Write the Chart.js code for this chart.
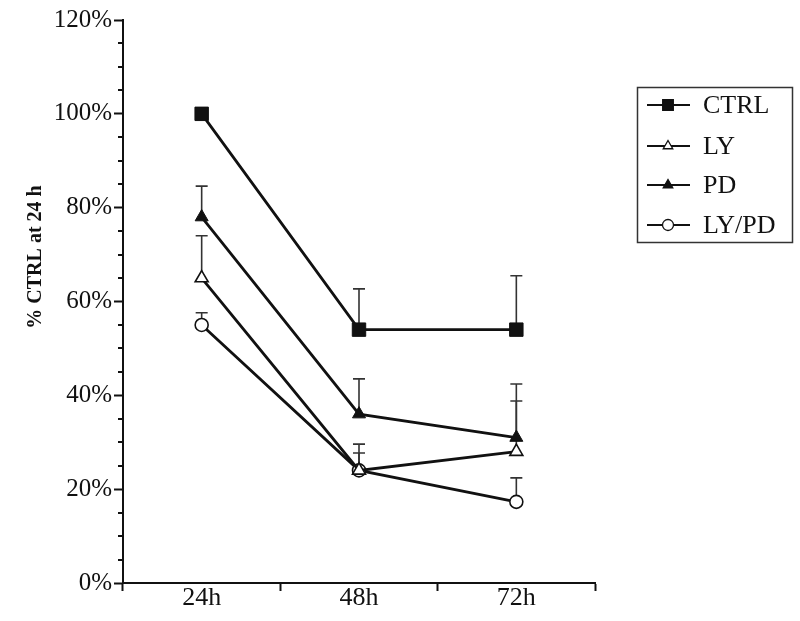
<!DOCTYPE html>
<html>
<head>
<meta charset="utf-8">
<script src="https://cdn.jsdelivr.net/npm/chart.js@4.4.1/dist/chart.umd.min.js"></script>
<style>
html,body{margin:0;padding:0;background:#fff;}
#wrap{width:800px;height:621px;position:relative;}
</style>
</head>
<body>
<div id="wrap"><canvas id="c" width="800" height="621"></canvas></div>
<script>
const categories = ['24h', '48h', '72h'];
const seriesNames = ['CTRL', 'LY', 'PD', 'LY/PD'];
const ctrlValues = [100, 54, 54];
const ctrlSD = [0, 8.7, 11.5];
const lyValues = [65, 24, 28];
const lySD = [9, 5.6, 10.8];
const pdValues = [78, 36, 31];
const pdSD = [6.6, 7.5, 11.4];
const lypdValues = [55, 24, 17.3];
const lypdSD = [2.6, 3.7, 5.1];
const yTickValues = [0, 20, 40, 60, 80, 100, 120];
const yAxisTitle = '% CTRL at 24 h';

const INK = '#111';
const SERIF = '"Liberation Serif", "Times New Roman", serif';

function ds(label, data, sd, style, radius, filled) {
  return {
    label, data, sd,
    borderColor: INK, borderWidth: 2.8,
    pointStyle: style, pointRadius: radius, pointHoverRadius: radius,
    pointBackgroundColor: filled ? INK : '#fff',
    pointBorderColor: INK, pointBorderWidth: filled ? 1 : 1.6,
    tension: 0, fill: false
  };
}

const errorBars = {
  id: 'errorBars',
  beforeDatasetsDraw(chart) {
    const ctx = chart.ctx, y = chart.scales.y;
    ctx.save();
    ctx.strokeStyle = '#333'; ctx.lineWidth = 1.6;
    chart.data.datasets.forEach((d, i) => {
      const meta = chart.getDatasetMeta(i);
      meta.data.forEach((pt, j) => {
        const s = d.sd[j];
        if (!s) return;
        const yTop = y.getPixelForValue(d.data[j] + s);
        ctx.beginPath();
        ctx.moveTo(pt.x, pt.y); ctx.lineTo(pt.x, yTop);
        ctx.moveTo(pt.x - 6, yTop); ctx.lineTo(pt.x + 6, yTop);
        ctx.stroke();
      });
    });
    ctx.restore();
  }
};

const extras = {
  id: 'extras',
  afterDraw(chart) {
    const ctx = chart.ctx, y = chart.scales.y, a = chart.chartArea;
    ctx.save();
    // minor ticks every 5%
    ctx.strokeStyle = INK; ctx.lineWidth = 2;
    for (let v = 0; v <= 120; v += 5) {
      if (v % 20 === 0) continue;
      const py = Math.round(y.getPixelForValue(v));
      ctx.beginPath(); ctx.moveTo(a.left - 5, py); ctx.lineTo(a.left, py); ctx.stroke();
    }
    // y axis title
    ctx.fillStyle = INK;
    ctx.font = 'bold 20px ' + SERIF;
    ctx.textAlign = 'center'; ctx.textBaseline = 'middle';
    ctx.translate(36, 257); ctx.rotate(-Math.PI / 2);
    ctx.fillText(yAxisTitle, 0, 0);
    ctx.restore();

    // legend
    ctx.save();
    ctx.strokeStyle = '#333'; ctx.lineWidth = 1.5;
    ctx.strokeRect(637.5, 87.5, 155, 155);
    const rows = [105, 146, 185, 225];
    const styles = [['rect', 7.5, true], ['triangle', 5.5, false], ['triangle', 5.5, true], ['circle', 5.5, false]];
    chart.data.datasets.forEach((d, i) => {
      const yy = rows[i];
      ctx.strokeStyle = INK; ctx.lineWidth = 2;
      ctx.beginPath(); ctx.moveTo(647, yy); ctx.lineTo(690, yy); ctx.stroke();
      ctx.fillStyle = styles[i][2] ? INK : '#fff';
      ctx.lineWidth = 1.3;
      Chart.helpers.drawPoint(ctx, {pointStyle: styles[i][0], radius: styles[i][1], rotation: 0, borderWidth: 1.3}, 668, yy);
      ctx.fillStyle = INK;
      ctx.font = '26px ' + SERIF;
      ctx.textAlign = 'left'; ctx.textBaseline = 'middle';
      ctx.fillText(d.label, 703, yy + 1);
    });
    ctx.restore();
  }
};

new Chart(document.getElementById('c'), {
  type: 'line',
  data: {
    labels: categories,
    datasets: [
      ds(seriesNames[0], ctrlValues, ctrlSD, 'rect', 9.5, true),
      ds(seriesNames[1], lyValues, lySD, 'triangle', 7.5, false),
      ds(seriesNames[2], pdValues, pdSD, 'triangle', 7.5, true),
      ds(seriesNames[3], lypdValues, lypdSD, 'circle', 6.5, false)
    ]
  },
  options: {
    responsive: false,
    animation: false,
    layout: {padding: {left: 0, right: 205, top: 20, bottom: 0}},
    plugins: {legend: {display: false}, tooltip: {enabled: false}},
    scales: {
      x: {
        type: 'category',
        offset: true,
        grid: {offset: true, drawOnChartArea: false, tickLength: 8, tickColor: INK, tickWidth: 2},
        border: {color: INK, width: 2},
        ticks: {font: {family: SERIF, size: 26}, color: INK, padding: -8},
        afterFit(s) { s.height = 38; }
      },
      y: {
        min: 0, max: 120,
        afterBuildTicks(s) { s.ticks = yTickValues.map(v => ({value: v})); },
        grid: {drawOnChartArea: false, tickLength: 9, tickColor: INK, tickWidth: 2},
        border: {color: INK, width: 2},
        ticks: {font: {family: SERIF, size: 25}, color: INK, padding: 2, callback: v => v + '%'},
        afterFit(s) { s.width = 123; }
      }
    }
  },
  plugins: [errorBars, extras]
});
</script>
</body>
</html>
